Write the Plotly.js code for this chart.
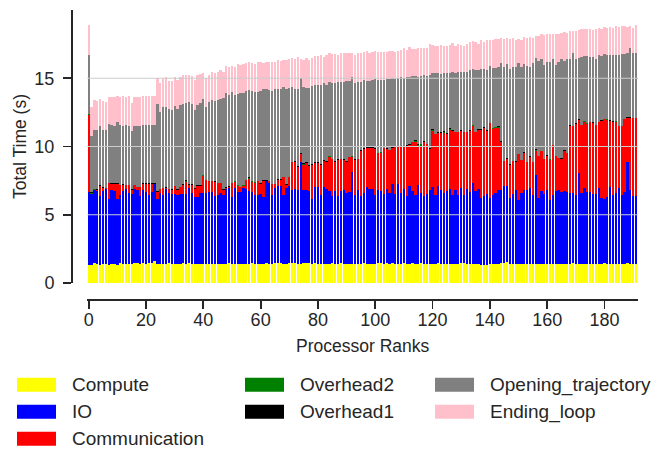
<!DOCTYPE html>
<html>
<head>
<meta charset="utf-8">
<script src="https://cdn.plot.ly/plotly-3.0.1.min.js"></script>
<style>
  html, body { margin: 0; padding: 0; background: #ffffff; }
  #chart { width: 654px; height: 450px; }
</style>
</head>
<body>
<div id="chart"></div>
<script>
// Processor ranks 0..191 (one bar per rank)
const ranks = Array.from({length: 192}, (_, i) => i);

const compute = [
1.31,1.31,1.43,1.36,1.31,1.36,1.36,1.31,1.36,1.36,
1.31,1.43,1.36,1.36,1.36,1.36,1.43,1.43,1.36,1.43,
1.36,1.43,1.48,1.60,1.36,1.36,1.36,1.36,1.43,1.36,
1.36,1.36,1.36,1.43,1.36,1.48,1.36,1.36,1.36,1.36,
1.36,1.36,1.36,1.36,1.36,1.36,1.36,1.36,1.36,1.43,
1.36,1.36,1.36,1.36,1.36,1.36,1.36,1.43,1.36,1.36,
1.36,1.36,1.43,1.36,1.36,1.43,1.43,1.43,1.36,1.36,
1.43,1.43,1.43,1.36,1.36,1.43,1.43,1.43,1.36,1.43,
1.36,1.36,1.36,1.36,1.36,1.43,1.36,1.36,1.43,1.36,
1.36,1.36,1.36,1.36,1.36,1.36,1.43,1.36,1.36,1.36,
1.36,1.43,1.43,1.36,1.43,1.36,1.43,1.36,1.36,1.36,
1.48,1.36,1.36,1.48,1.36,1.36,1.48,1.36,1.36,1.36,
1.36,1.36,1.43,1.36,1.36,1.36,1.36,1.36,1.36,1.36,
1.43,1.43,1.36,1.36,1.36,1.36,1.36,1.31,1.31,1.31,
1.36,1.36,1.36,1.36,1.43,1.48,1.53,1.36,1.36,1.36,
1.36,1.36,1.36,1.36,1.36,1.36,1.36,1.36,1.36,1.36,
1.36,1.36,1.36,1.36,1.36,1.36,1.36,1.36,1.36,1.43,
1.36,1.36,1.36,1.36,1.36,1.36,1.36,1.36,1.36,1.36,
1.43,1.36,1.36,1.36,1.36,1.36,1.36,1.36,1.43,1.36,
1.36,1.36];

const io = [
5.39,5.22,5.39,5.41,5.10,5.39,5.54,4.86,5.46,5.39,
4.86,5.03,5.39,5.54,5.24,5.17,5.47,5.39,5.05,5.39,
5.32,5.03,5.22,5.64,4.78,5.22,5.10,5.54,5.15,5.17,
5.17,5.10,5.17,5.10,5.17,5.46,5.24,4.95,4.93,5.22,
5.22,5.24,5.32,5.34,5.02,5.10,5.22,5.10,5.56,5.51,
4.93,5.58,5.34,5.32,5.58,5.51,5.41,5.20,5.10,5.10,
5.17,4.93,6.01,5.94,5.10,5.52,5.64,5.64,5.10,5.59,
5.64,5.40,5.45,5.47,7.53,5.40,5.40,5.32,4.78,5.57,
5.64,5.10,5.64,5.52,5.39,4.98,5.35,4.98,5.28,5.47,
5.22,5.27,6.80,5.10,5.47,5.05,5.15,5.64,5.52,5.52,
5.10,5.40,5.28,5.17,5.45,5.22,5.84,5.17,5.91,5.22,
5.40,5.05,5.71,5.23,5.10,5.83,5.10,5.05,5.17,5.47,
5.64,5.10,5.64,5.47,5.22,5.41,5.51,5.10,5.46,5.10,
5.56,5.03,5.54,5.34,5.97,5.39,5.54,4.95,5.03,5.22,
4.90,5.10,5.22,5.46,5.39,5.66,5.61,4.86,5.17,5.46,
4.73,5.22,5.46,5.46,5.61,5.10,6.56,4.88,5.41,5.17,
5.46,4.73,5.07,5.39,5.46,5.34,5.39,5.34,5.22,5.15,
5.10,6.70,5.22,5.61,5.27,5.34,5.17,5.17,5.58,4.86,
4.74,4.95,5.68,5.10,5.22,5.58,5.10,5.34,7.46,5.46,
5.02,5.02];

const communication = [
5.59,0.02,0.02,0.05,0.66,0.19,0.05,1.16,0.44,0.51,
1.09,0.70,0.41,0.26,0.56,0.29,0.26,0.20,0.61,0.44,
0.58,0.80,0.56,0.02,0.49,0.29,0.48,0.04,0.29,0.29,
0.58,0.36,0.49,0.66,0.88,0.25,0.59,0.56,0.80,0.51,
1.29,0.93,0.77,0.75,1.03,0.87,0.75,0.36,0.05,0.10,
1.04,0.49,0.44,0.34,0.20,0.68,0.88,0.80,0.90,0.98,
0.74,1.20,0.05,0.14,0.78,0.29,0.49,0.49,1.29,0.24,
0.68,2.00,2.01,1.66,0.57,1.83,1.95,1.83,2.52,1.78,
1.78,2.20,1.95,1.95,2.51,2.68,2.18,2.68,2.36,2.19,
2.31,2.58,1.10,2.56,2.26,3.27,3.25,2.88,3.00,3.00,
3.37,2.68,2.85,3.35,2.95,3.17,2.61,3.40,2.66,3.42,
3.05,3.59,3.05,3.60,3.90,2.88,3.49,3.90,3.64,3.00,
4.17,4.46,3.90,4.14,4.44,4.13,4.37,4.69,4.23,4.59,
4.13,4.59,4.15,4.40,4.20,4.30,4.30,4.94,5.00,4.62,
5.44,4.81,4.76,4.57,3.50,1.80,1.92,2.42,2.41,2.07,
3.36,2.43,2.70,2.04,2.28,2.40,1.77,3.06,2.89,2.55,
2.50,2.92,3.67,2.55,2.33,2.41,2.91,2.82,4.91,4.91,
5.17,3.87,4.98,4.81,5.00,5.08,5.20,5.03,4.86,5.66,
5.83,5.62,4.84,5.32,5.20,4.55,5.03,5.30,3.18,5.25,
5.69,5.69];

const overhead2 = [
0.10,0.01,0.01,0.01,0.01,0.01,0.01,0.01,0.01,0.01,
0.01,0.01,0.01,0.01,0.01,0.01,0.01,0.01,0.01,0.01,
0.01,0.01,0.01,0.01,0.01,0.01,0.01,0.01,0.01,0.01,
0.01,0.01,0.01,0.01,0.08,0.01,0.01,0.01,0.01,0.01,
0.01,0.01,0.01,0.01,0.01,0.01,0.01,0.01,0.01,0.01,
0.01,0.01,0.01,0.01,0.01,0.01,0.01,0.01,0.01,0.01,
0.01,0.01,0.01,0.01,0.01,0.01,0.01,0.01,0.01,0.01,
0.01,0.01,0.01,0.01,0.01,0.08,0.01,0.01,0.01,0.01,
0.01,0.01,0.01,0.01,0.01,0.01,0.01,0.01,0.01,0.01,
0.01,0.01,0.01,0.01,0.01,0.01,0.01,0.01,0.01,0.01,
0.01,0.01,0.01,0.01,0.01,0.01,0.01,0.01,0.01,0.01,
0.01,0.01,0.01,0.01,0.01,0.01,0.08,0.01,0.01,0.01,
0.01,0.01,0.01,0.01,0.01,0.01,0.01,0.01,0.01,0.01,
0.01,0.01,0.01,0.01,0.01,0.01,0.01,0.01,0.01,0.01,
0.01,0.08,0.08,0.01,0.01,0.01,0.01,0.01,0.01,0.01,
0.01,0.01,0.01,0.01,0.01,0.01,0.08,0.01,0.01,0.01,
0.01,0.08,0.01,0.01,0.01,0.01,0.01,0.01,0.01,0.01,
0.01,0.01,0.01,0.08,0.08,0.01,0.01,0.01,0.01,0.01,
0.01,0.08,0.01,0.01,0.08,0.01,0.01,0.01,0.01,0.01,
0.01,0.01];

const overhead1 = [
0.02,0.08,0.02,0.02,0.08,0.06,0.02,0.02,0.07,0.02,
0.02,0.02,0.07,0.02,0.02,0.07,0.02,0.02,0.02,0.07,
0.02,0.02,0.07,0.06,0.07,0.02,0.02,0.07,0.02,0.02,
0.02,0.02,0.02,0.07,0.02,0.02,0.02,0.07,0.07,0.07,
0.02,0.02,0.02,0.02,0.02,0.02,0.02,0.02,0.02,0.07,
0.02,0.02,0.02,0.02,0.02,0.02,0.07,0.02,0.02,0.02,
0.07,0.02,0.07,0.02,0.02,0.02,0.07,0.02,0.02,0.02,
0.02,0.02,0.02,0.07,0.02,0.02,0.07,0.02,0.02,0.07,
0.07,0.02,0.02,0.07,0.02,0.02,0.02,0.02,0.02,0.02,
0.02,0.02,0.07,0.07,0.02,0.02,0.02,0.07,0.07,0.07,
0.02,0.02,0.02,0.02,0.02,0.02,0.07,0.02,0.07,0.02,
0.02,0.07,0.02,0.02,0.07,0.07,0.02,0.07,0.02,0.02,
0.07,0.02,0.07,0.07,0.07,0.07,0.07,0.02,0.02,0.02,
0.07,0.02,0.02,0.07,0.07,0.02,0.07,0.07,0.07,0.02,
0.02,0.02,0.02,0.07,0.07,0.02,0.07,0.07,0.02,0.02,
0.02,0.02,0.07,0.02,0.02,0.02,0.02,0.02,0.02,0.02,
0.02,0.02,0.02,0.02,0.02,0.02,0.07,0.02,0.07,0.02,
0.07,0.07,0.02,0.02,0.02,0.02,0.02,0.02,0.02,0.02,
0.02,0.02,0.02,0.07,0.02,0.02,0.02,0.02,0.07,0.07,
0.02,0.02];

const openingTrajectory = [
4.32,4.12,4.37,4.35,4.34,4.20,4.22,4.27,4.22,4.20,
4.49,4.37,4.24,4.37,4.30,4.21,4.30,4.44,4.44,4.21,
4.27,4.32,4.25,4.28,6.37,5.61,5.92,5.90,5.87,5.80,
5.80,5.88,5.97,5.87,5.71,6.01,5.87,5.76,5.90,6.04,
5.55,5.31,5.75,5.90,5.87,6.02,6.09,6.67,6.90,6.62,
6.63,6.31,6.68,6.87,6.75,6.49,6.39,6.61,6.63,6.55,
6.74,6.67,6.62,6.67,6.82,6.92,6.55,6.60,6.56,6.97,
6.48,5.48,5.27,5.62,5.53,5.63,5.45,5.70,5.75,5.65,
5.65,5.82,5.65,5.60,5.46,5.51,5.71,5.70,5.65,5.70,
5.88,5.56,5.78,5.53,5.63,5.04,5.02,4.84,4.84,4.92,
5.06,5.34,5.29,4.97,5.06,5.14,5.04,4.96,4.99,5.04,
5.04,5.04,4.92,4.83,4.73,4.97,5.00,4.85,4.97,5.38,
4.17,4.41,4.36,4.26,4.26,4.37,4.10,4.31,4.27,4.41,
4.29,4.41,4.41,4.39,4.10,4.49,4.29,4.43,4.29,4.46,
4.20,4.35,4.28,4.32,5.75,6.82,6.94,6.99,6.82,6.94,
6.67,6.75,6.48,7.04,6.58,7.26,6.66,6.97,6.75,6.89,
6.87,7.11,6.31,6.67,7.04,7.30,6.56,6.89,4.87,5.36,
4.73,4.48,5.00,4.72,4.87,4.78,4.83,4.85,4.90,4.75,
4.78,4.70,4.82,4.87,4.79,5.21,5.29,4.78,4.73,5.09,
4.78,4.78];

const endingLoop = [
2.19,2.11,2.14,2.11,1.96,2.11,2.03,1.97,2.06,2.11,
1.94,2.04,2.23,2.04,2.18,2.11,2.11,2.11,2.11,2.16,
2.11,2.11,2.14,2.09,1.97,2.11,2.10,2.19,2.00,2.12,
2.12,2.11,2.04,2.11,2.04,2.04,2.09,2.18,2.18,2.12,
1.97,2.12,2.04,2.11,2.11,2.11,2.12,1.97,1.97,2.05,
1.90,2.05,2.18,2.04,2.11,2.04,2.04,2.04,2.03,2.20,
2.08,1.95,2.03,2.08,2.13,2.03,2.15,2.08,2.00,2.15,
2.15,2.15,2.22,2.37,1.39,1.95,2.18,2.03,2.05,2.12,
2.12,2.19,1.95,2.19,2.08,2.12,2.15,1.95,2.08,2.13,
2.03,2.03,1.76,2.07,2.08,2.13,2.07,2.20,2.08,2.07,
2.08,2.07,2.07,2.07,2.03,2.11,2.03,2.03,2.03,2.03,
2.24,1.98,2.25,2.00,2.00,2.12,2.07,2.00,2.07,2.30,
2.04,2.03,1.98,2.15,2.03,2.04,2.04,2.12,2.04,2.05,
1.97,1.90,2.05,2.11,2.05,2.11,1.97,2.12,1.97,2.19,
1.90,2.05,2.12,2.11,1.82,2.11,1.89,2.19,2.18,1.97,
1.75,2.04,1.97,2.04,2.19,1.82,1.66,1.82,1.83,2.17,
2.02,2.05,1.80,2.24,2.02,1.87,2.11,1.90,2.04,1.58,
2.04,2.07,2.04,2.04,2.04,1.99,1.97,2.19,1.97,1.97,
1.96,1.97,2.04,1.97,2.19,2.04,2.04,2.04,1.89,1.61,
1.82,2.04];

const seriesNames  = ['Compute', 'IO', 'Communication', 'Overhead2', 'Overhead1', 'Opening_trajectory', 'Ending_loop'];
const seriesValues = [compute, io, communication, overhead2, overhead1, openingTrajectory, endingLoop];
const seriesColors = ['#ffff00', '#0000ff', '#ff0000', '#008000', '#000000', '#808080', '#ffc0cb'];

const FONT = 'Liberation Sans, Arial, Helvetica, sans-serif';
const INK = '#262626';

const traces = seriesNames.map((name, k) => ({
  type: 'bar',
  x: ranks,
  y: seriesValues[k],
  name: name,
  marker: {color: seriesColors[k], line: {width: 0}},
  hoverinfo: 'skip'
}));

// Page geometry (pixels)
const W = 654, H = 450;
const M = {l: 71, r: 16, t: 10, b: 151};
const PW = W - M.l - M.r, PH = H - M.t - M.b;
const px2x = px => (px - M.l) / PW;
const px2y = py => (H - M.b - py) / PH;

// Legend, laid out in three columns below the plot
const legendCol = [17, 245, 435];          // swatch left edge per column
const legendRow = [384.8, 411.7, 438.8];   // row centre lines
const legendSlot = [[0,0],[0,1],[0,2],[1,0],[1,1],[2,0],[2,1]];
const swatchW = 39, swatchH = 14, textGap = 13.5;

const shapes = [5, 10, 15].map(v => ({
  type: 'line', layer: 'above',
  xref: 'x domain', x0: 0, x1: 1,
  yref: 'y', y0: v, y1: v,
  line: {color: '#cccccc', width: 1.2}
}));
const annotations = [];
seriesNames.forEach((name, k) => {
  const [c, r] = legendSlot[k];
  const x0 = legendCol[c], yc = legendRow[r];
  shapes.push({
    type: 'rect', xref: 'paper', yref: 'paper',
    x0: px2x(x0), x1: px2x(x0 + swatchW),
    y0: px2y(yc + swatchH / 2), y1: px2y(yc - swatchH / 2),
    fillcolor: seriesColors[k], line: {width: 0}
  });
  annotations.push({
    xref: 'paper', yref: 'paper',
    x: px2x(x0 + swatchW + textGap), y: px2y(yc),
    xanchor: 'left', yanchor: 'middle',
    text: name, showarrow: false,
    font: {family: FONT, size: 19, color: INK}
  });
});

const layout = {
  width: W, height: H,
  paper_bgcolor: '#ffffff',
  plot_bgcolor: '#ffffff',
  margin: {l: M.l, r: M.r, t: M.t, b: M.b, pad: 0, autoexpand: false},
  barmode: 'stack',
  bargap: 0.2,
  font: {family: FONT, color: INK, size: 18},
  showlegend: false,
  xaxis: {
    domain: [0.0287, 1],
    anchor: 'free', position: 0,
    range: [-0.5, 191.7],
    showline: true, linecolor: INK, linewidth: 1.75,
    ticks: 'outside', ticklen: 8, tickwidth: 1.75, tickcolor: INK,
    tickmode: 'array', tickvals: [0,20,40,60,80,100,120,140,160,180],
    tickangle: 0,
    ticklabelstandoff: -4,
    tickfont: {family: FONT, size: 18, color: INK},
    showgrid: false, zeroline: false,
    title: {text: 'Processor Ranks', font: {family: FONT, size: 17.5, color: INK}, standoff: 10}
  },
  yaxis: {
    domain: [0.0554, 1],
    anchor: 'free', position: 0,
    range: [0, 20],
    showline: true, linecolor: INK, linewidth: 1.75,
    ticks: 'outside', ticklen: 8, tickwidth: 1.75, tickcolor: INK,
    tickmode: 'array', tickvals: [0,5,10,15],
    tickfont: {family: FONT, size: 18, color: INK},
    ticklabelstandoff: 5,
    showgrid: false, zeroline: false,
    title: {text: 'Total Time (s)', font: {family: FONT, size: 17.5, color: INK}, standoff: 1}
  },
  shapes: shapes,
  annotations: annotations
};

Plotly.newPlot('chart', traces, layout, {staticPlot: true, displayModeBar: false});
</script>
</body>
</html>
